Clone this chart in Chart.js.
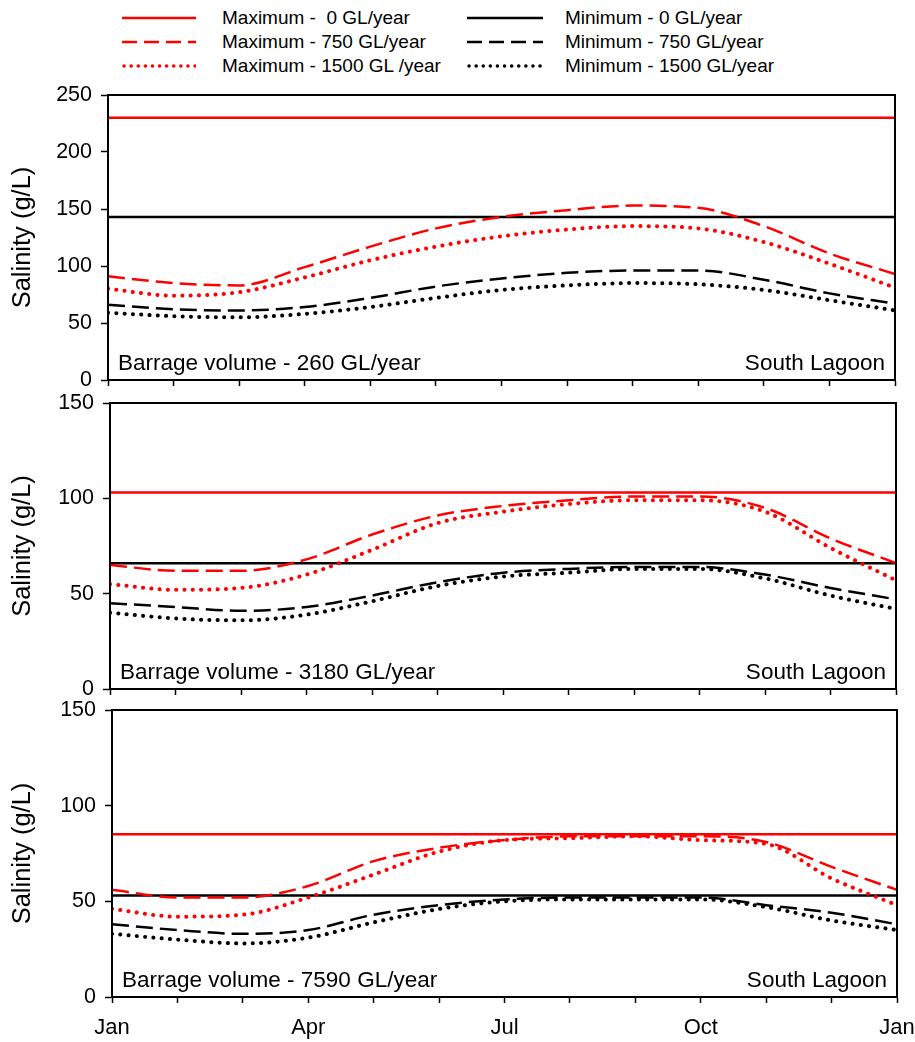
<!DOCTYPE html>
<html>
<head>
<meta charset="utf-8">
<script src="https://cdn.jsdelivr.net/npm/chart.js@4.4.1/dist/chart.umd.min.js"></script>
<style>
  body { margin: 0; background: #fff; width: 915px; height: 1042px; position: relative; overflow: hidden; font-family: "Liberation Sans", Arial, sans-serif; }
  canvas { position: absolute; left: 0; }
  .key { position: absolute; height: 20px; display: flex; align-items: center; font-size: 19px; color: #000; white-space: pre; }
</style>
</head>
<body>
<div id="legend"></div>
<canvas id="c1"></canvas>
<canvas id="c2"></canvas>
<canvas id="c3"></canvas>
<script>
// months along the x axis, Jan to Jan
const months = ['Jan', 'Feb', 'Mar', 'Apr', 'May', 'Jun', 'Jul', 'Aug', 'Sep', 'Oct', 'Nov', 'Dec', 'Jan'];
const monthLabels = ['Jan', '', '', 'Apr', '', '', 'Jul', '', '', 'Oct', '', '', 'Jan'];

// barrage volume 260 GL/year
const max0_260    = [230, 230, 230, 230, 230, 230, 230, 230, 230, 230, 230, 230, 230];
const max750_260  = [91, 85, 83, 99, 117, 133, 143, 149, 153, 151, 135, 111, 93];
const max1500_260 = [80, 74, 77, 90, 105, 117, 126, 132, 135, 133, 121, 102, 81];
const min0_260    = [143, 143, 143, 143, 143, 143, 143, 143, 143, 143, 143, 143, 143];
const min750_260  = [66, 62, 61, 64, 72, 82, 89, 94, 96, 96, 88, 76, 67];
const min1500_260 = [59, 56, 55, 58, 64, 72, 79, 83, 85, 84, 79, 70, 61];

// barrage volume 3180 GL/year
const max0_3180    = [103, 103, 103, 103, 103, 103, 103, 103, 103, 103, 103, 103, 103];
const max750_3180  = [65, 62, 62, 68, 81, 91, 96, 99, 101, 101, 95, 79, 66];
const max1500_3180 = [55, 52, 53, 60, 73, 87, 93, 97, 99, 99, 93, 74, 57];
const min0_3180    = [66, 66, 66, 66, 66, 66, 66, 66, 66, 66, 66, 66, 66];
const min750_3180  = [45, 43, 41, 43, 49, 56, 61, 63, 64, 64, 60, 53, 47];
const min1500_3180 = [40, 37, 36, 39, 46, 54, 59, 61, 63, 63, 58, 49, 42];

// barrage volume 7590 GL/year
const max0_7590    = [85, 85, 85, 85, 85, 85, 85, 85, 85, 85, 85, 85, 85];
const max750_7590  = [56, 52, 52, 58, 71, 78, 82, 84, 84, 84, 81, 68, 56];
const max1500_7590 = [46, 42, 43, 52, 64, 76, 82, 83, 84, 82, 80, 62, 48];
const min0_7590    = [53, 53, 53, 53, 53, 53, 53, 53, 53, 53, 53, 53, 53];
const min750_7590  = [38, 35, 33, 35, 43, 48, 51, 52, 52, 52, 48, 44, 38];
const min1500_7590 = [33, 30, 28, 31, 39, 46, 50, 51, 51, 51, 47, 40, 35];

const seriesNames = ['Maximum -  0 GL/year', 'Maximum - 750 GL/year', 'Maximum - 1500 GL /year',
                     'Minimum - 0 GL/year', 'Minimum - 750 GL/year', 'Minimum - 1500 GL/year'];

const RED = '#ff0000', BLACK = '#000000';
const styles = [
  { color: RED,   dash: [] },
  { color: RED,   dash: [17, 7] },
  { color: RED,   dash: [0.1, 8.2], dotted: true },
  { color: BLACK, dash: [] },
  { color: BLACK, dash: [17, 7] },
  { color: BLACK, dash: [0.1, 8.2], dotted: true }
];

const FONT = '"Liberation Sans", Arial, sans-serif';

// legend, two columns of three
styles.forEach((s, i) => {
  const col = Math.floor(i / 3), row = i % 3;
  const el = document.createElement('div');
  el.className = 'key';
  el.style.left = (col ? 467 : 122) + 'px';
  el.style.top = (8 + row * 24) + 'px';
  const w = col ? 76 : 74;
  const dash = s.dotted ? 'stroke-dasharray="0.1 7" stroke-linecap="round" stroke-width="3.5"'
             : s.dash.length ? 'stroke-dasharray="15 7" stroke-width="2.5"' : 'stroke-width="2.5"';
  el.innerHTML = `<svg width="${w}" height="8"><line x1="${s.dotted ? 2 : 0}" y1="4" x2="${w}" y2="4" stroke="${s.color}" ${dash}/></svg>` + seriesNames[i];
  el.querySelector('svg').style.marginRight = (col ? 22 : 26) + 'px';
  document.getElementById('legend').appendChild(el);
});

// text in the plot corners plus the frame round it
const cornerNotes = {
  id: 'cornerNotes',
  afterDatasetsDraw(chart, args, opts) {
    const { ctx, chartArea: a } = chart;
    ctx.save();
    ctx.font = '22.5px ' + FONT;
    ctx.fillStyle = '#000';
    ctx.textBaseline = 'alphabetic';
    ctx.textAlign = 'left';
    ctx.fillText(opts.left, a.left + 10, a.bottom - 10);
    ctx.textAlign = 'right';
    ctx.fillText(opts.right, a.right - 10, a.bottom - 10);
    ctx.strokeStyle = '#000';
    ctx.lineWidth = 2;
    ctx.strokeRect(a.left, a.top, a.right - a.left, a.bottom - a.top);
    ctx.restore();
  }
};

const panels = [
  { id: 'c1', top: 95,  bottom: 380, left: 108, right: 895, yMax: 250, axisH: 24, labels: false,
    note: 'Barrage volume - 260 GL/year',
    data: [max0_260, max750_260, max1500_260, min0_260, min750_260, min1500_260] },
  { id: 'c2', top: 403, bottom: 689, left: 110, right: 896, yMax: 150, axisH: 24, labels: false,
    note: 'Barrage volume - 3180 GL/year',
    data: [max0_3180, max750_3180, max1500_3180, min0_3180, min750_3180, min1500_3180] },
  { id: 'c3', top: 710, bottom: 997, left: 112, right: 897, yMax: 150, axisH: 45, labels: true,
    note: 'Barrage volume - 7590 GL/year',
    data: [max0_7590, max750_7590, max1500_7590, min0_7590, min750_7590, min1500_7590] }
];

// room above the plot for the top tick label (label half height + tick padding)
const PAD_TOP = 24;
// canvases run past the page edge so the last month label does not squeeze the plot
const CANVAS_W = 950;

panels.forEach(p => {
  const cv = document.getElementById(p.id);
  cv.width = CANVAS_W;
  cv.height = (p.bottom - p.top) + PAD_TOP + p.axisH;
  cv.style.top = (p.top - PAD_TOP) + 'px';

  const datasets = p.data.map((vals, i) => ({
    label: seriesNames[i],
    data: vals.map((v, m) => ({ x: m, y: v })),
    borderColor: styles[i].color,
    borderWidth: styles[i].dotted ? 4 : 2.5,
    borderDash: styles[i].dash,
    borderCapStyle: styles[i].dotted ? 'round' : 'butt',
    pointRadius: 0,
    cubicInterpolationMode: 'monotone',
    fill: false
  }));

  new Chart(cv, {
    type: 'line',
    data: { datasets },
    plugins: [cornerNotes],
    options: {
      responsive: false,
      animation: false,
      events: [],
      layout: { padding: { top: PAD_TOP, right: CANVAS_W - p.right, left: 0, bottom: 0 } },
      plugins: {
        legend: { display: false },
        tooltip: { enabled: false },
        cornerNotes: { left: p.note, right: 'South Lagoon' }
      },
      scales: {
        x: {
          type: 'linear', min: 0, max: 12,
          afterFit: s => { s.height = p.axisH; },
          afterBuildTicks: s => { s.ticks = months.map((m, i) => ({ value: i })); },
          grid: { drawOnChartArea: false, drawTicks: true, tickLength: 6, tickColor: '#000', tickWidth: 1.5 },
          border: { display: true, color: '#000', width: 2 },
          ticks: {
            autoSkip: false, maxRotation: 0, padding: 12, color: '#000',
            font: { family: FONT, size: 22 },
            callback: v => p.labels ? monthLabels[v] : ''
          }
        },
        y: {
          min: 0, max: p.yMax,
          afterFit: s => { s.width = p.left; },
          grid: { drawOnChartArea: false, drawTicks: true, tickLength: 7, tickColor: '#000', tickWidth: 1.5 },
          border: { display: true, color: '#000', width: 2 },
          ticks: { stepSize: 50, padding: 9, color: '#000', font: { family: FONT, size: 21.5 } },
          title: {
            display: true, text: 'Salinity (g/L)', color: '#000',
            font: { family: FONT, size: 25.5 }, padding: { top: 8, bottom: 0 }
          }
        }
      }
    }
  });
});
</script>
</body>
</html>
